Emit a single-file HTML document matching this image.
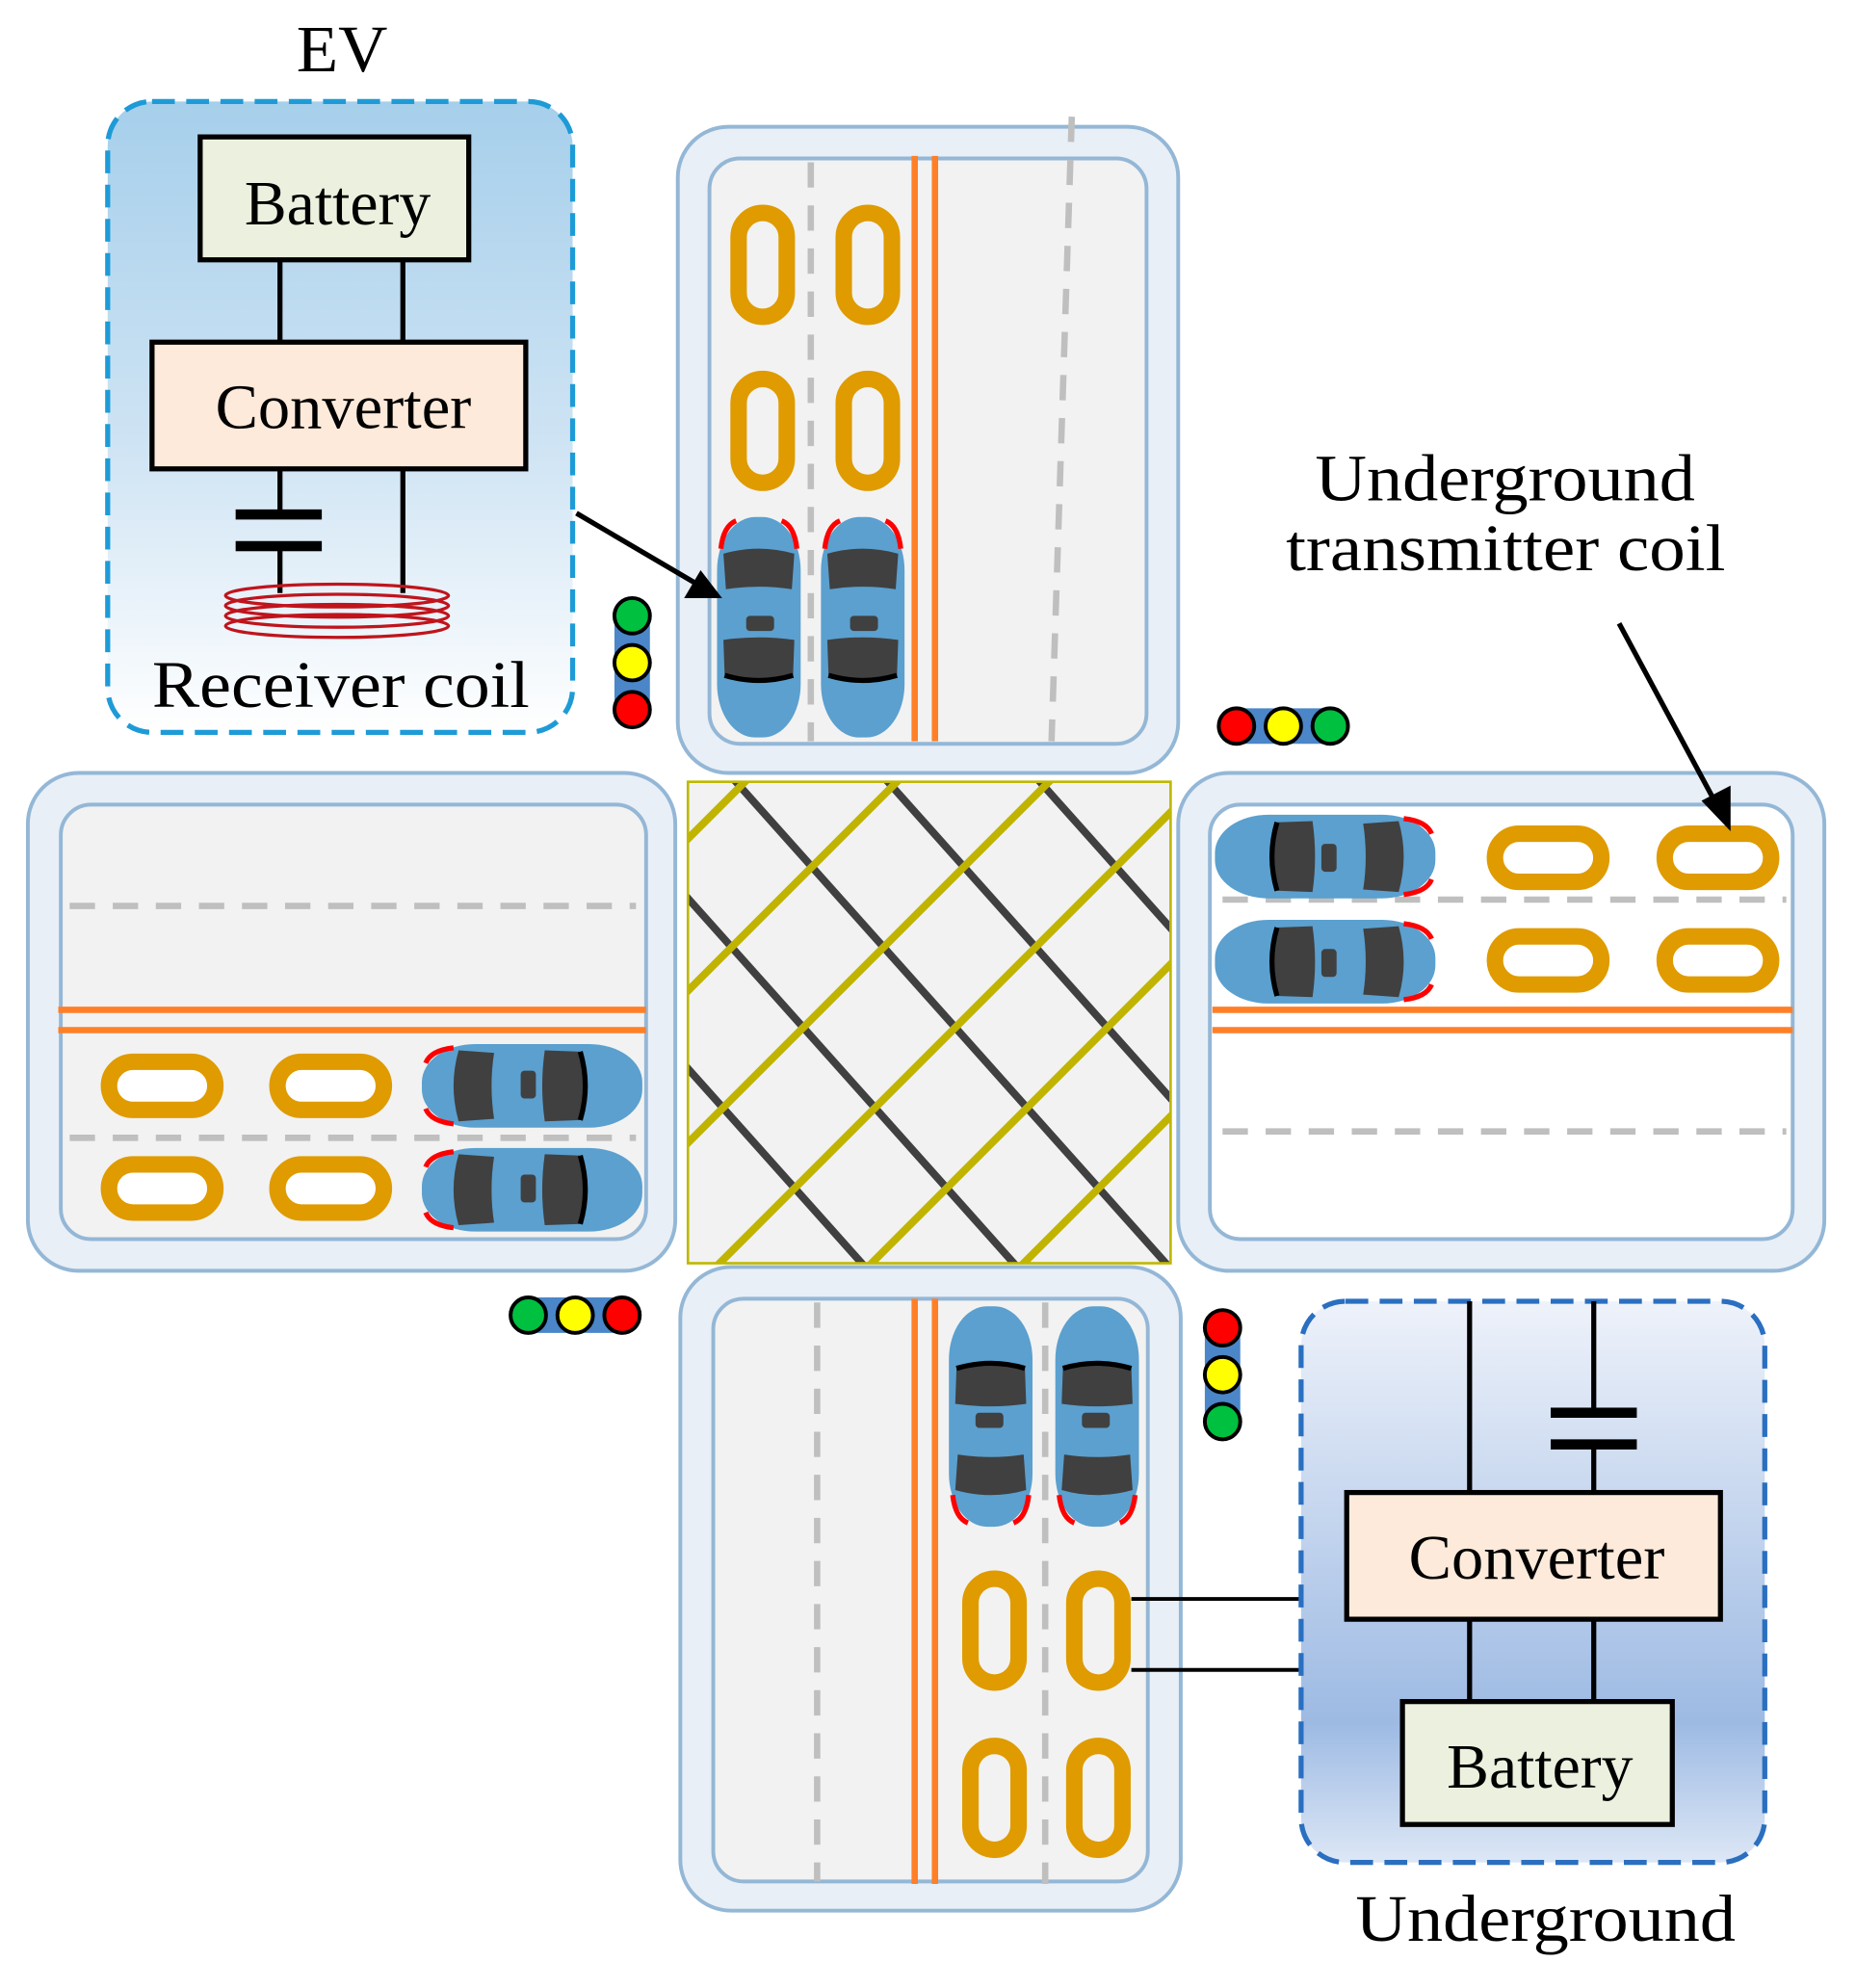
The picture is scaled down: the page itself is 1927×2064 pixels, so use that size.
<!DOCTYPE html>
<html><head><meta charset="utf-8"><style>html,body{margin:0;padding:0;background:#fff}svg{display:block}</style></head>
<body>
<svg width="1927" height="2064" viewBox="0 0 1465 1569" xmlns="http://www.w3.org/2000/svg" font-family="'Liberation Serif', serif">
<defs>
<linearGradient id="evg" x1="0" y1="0" x2="0" y2="1"><stop offset="0" stop-color="#a6cfeb"/><stop offset="0.55" stop-color="#cfe4f4"/><stop offset="1" stop-color="#ffffff"/></linearGradient>
<linearGradient id="ugg" x1="0" y1="0" x2="0" y2="1"><stop offset="0" stop-color="#eef2fa"/><stop offset="0.75" stop-color="#9dbae3"/><stop offset="1" stop-color="#dde7f6"/></linearGradient>
<clipPath id="cx"><rect x="543" y="617" width="381" height="380"/></clipPath>
<g id="car">
<rect x="-33" y="-87" width="66" height="174" rx="30" ry="42" fill="#5ba0cf"/>
<path d="M-30,-62 Q-28,-80 -18,-84 M30,-62 Q28,-80 18,-84" stroke="#ff0000" stroke-width="4" fill="none"/>
<path d="M-28,-58 Q0,-66 28,-58 L26,-30 Q0,-34 -26,-30 Z" fill="#404040"/>
<rect x="-10" y="-9" width="22" height="12" rx="3" fill="#404040"/>
<path d="M-28,10 Q0,6 28,10 L27,38 Q0,46 -27,38 Z" fill="#404040"/>
<path d="M-27,38 Q0,46 27,38" stroke="#000" stroke-width="4" fill="none"/>
</g>
</defs>
<rect width="1465" height="1569" fill="#fff"/>

<!-- EV box -->
<text x="234" y="56" font-size="52" textLength="72" lengthAdjust="spacingAndGlyphs">EV</text>
<rect x="85" y="80" width="367" height="498" rx="35" fill="url(#evg)" stroke="#1e9bd7" stroke-width="4" stroke-dasharray="18,9"/>
<line x1="221" y1="205" x2="221" y2="270" stroke="#000" stroke-width="4"/>
<line x1="318" y1="205" x2="318" y2="270" stroke="#000" stroke-width="4"/>
<rect x="158" y="108" width="212" height="97" fill="#ebf1de" stroke="#000" stroke-width="4"/>
<text x="193" y="177" font-size="50" textLength="147" lengthAdjust="spacingAndGlyphs">Battery</text>
<rect x="120" y="270" width="295" height="100" fill="#fdeada" stroke="#000" stroke-width="4"/>
<text x="170" y="338" font-size="50" textLength="202" lengthAdjust="spacingAndGlyphs">Converter</text>
<line x1="221" y1="370" x2="221" y2="404" stroke="#000" stroke-width="4"/>
<rect x="186" y="402" width="68" height="8" fill="#000"/>
<rect x="186" y="427" width="68" height="8" fill="#000"/>
<line x1="221" y1="433" x2="221" y2="468" stroke="#000" stroke-width="4"/>
<line x1="318" y1="370" x2="318" y2="468" stroke="#000" stroke-width="4"/>
<g fill="none" stroke="#c0141c" stroke-width="2.5">
<ellipse cx="266" cy="470" rx="88" ry="9"/><ellipse cx="266" cy="478" rx="88" ry="9"/><ellipse cx="266" cy="486" rx="88" ry="9"/><ellipse cx="266" cy="494" rx="88" ry="9"/></g>
<text x="120" y="558" font-size="52" textLength="298" lengthAdjust="spacingAndGlyphs">Receiver coil</text>

<!-- top road -->
<rect x="535" y="100" width="395" height="510" rx="40" fill="#e8eff7" stroke="#94b7d6" stroke-width="3"/>
<rect x="560" y="125" width="345" height="462" rx="24" fill="#f2f2f2" stroke="#94b7d6" stroke-width="3"/>
<line x1="640" y1="128" x2="640" y2="585" stroke="#bfbfbf" stroke-width="5" stroke-dasharray="20,14"/>
<line x1="846" y1="92" x2="830" y2="585" stroke="#bfbfbf" stroke-width="5" stroke-dasharray="20,14"/>
<line x1="722" y1="123" x2="722" y2="585" stroke="#ff7f27" stroke-width="5"/>
<line x1="738" y1="123" x2="738" y2="585" stroke="#ff7f27" stroke-width="5"/>
<g fill="none" stroke="#df9b00" stroke-width="13">
<rect x="583" y="168" width="38" height="82" rx="19"/><rect x="666" y="168" width="38" height="82" rx="19"/>
<rect x="583" y="299" width="38" height="82" rx="19"/><rect x="666" y="299" width="38" height="82" rx="19"/></g>
<use href="#car" transform="translate(599,495)"/>
<use href="#car" transform="translate(681,495)"/>
<line x1="455" y1="405" x2="552" y2="462" stroke="#000" stroke-width="4"/>
<polygon points="570,472 540,472 553,450" fill="#000"/>

<!-- left road -->
<rect x="22" y="610" width="511" height="393" rx="40" fill="#e8eff7" stroke="#94b7d6" stroke-width="3"/>
<rect x="48" y="635" width="462" height="343" rx="24" fill="#f2f2f2" stroke="#94b7d6" stroke-width="3"/>
<line x1="55" y1="715" x2="502" y2="715" stroke="#bfbfbf" stroke-width="5" stroke-dasharray="20,14"/>
<line x1="55" y1="898" x2="502" y2="898" stroke="#bfbfbf" stroke-width="5" stroke-dasharray="20,14"/>
<line x1="46" y1="797" x2="510" y2="797" stroke="#ff7f27" stroke-width="5"/>
<line x1="46" y1="813" x2="510" y2="813" stroke="#ff7f27" stroke-width="5"/>
<g fill="#fff" stroke="#df9b00" stroke-width="13">
<rect x="86" y="838" width="84" height="38" rx="19"/><rect x="219" y="838" width="84" height="38" rx="19"/>
<rect x="86" y="919" width="84" height="38" rx="19"/><rect x="219" y="919" width="84" height="38" rx="19"/></g>
<use href="#car" transform="translate(420,857) rotate(-90)"/>
<use href="#car" transform="translate(420,939) rotate(-90)"/>

<!-- right road -->
<rect x="930" y="610" width="510" height="393" rx="40" fill="#e8eff7" stroke="#94b7d6" stroke-width="3"/>
<rect x="955" y="635" width="460" height="343" rx="24" fill="#fff" stroke="#94b7d6" stroke-width="3"/>
<line x1="965" y1="710" x2="1410" y2="710" stroke="#bfbfbf" stroke-width="5" stroke-dasharray="20,14"/>
<line x1="965" y1="893" x2="1410" y2="893" stroke="#bfbfbf" stroke-width="5" stroke-dasharray="20,14"/>
<line x1="957" y1="797" x2="1415" y2="797" stroke="#ff7f27" stroke-width="5"/>
<line x1="957" y1="813" x2="1415" y2="813" stroke="#ff7f27" stroke-width="5"/>
<g fill="#fff" stroke="#df9b00" stroke-width="13">
<rect x="1180" y="658" width="84" height="38" rx="19"/><rect x="1314" y="658" width="84" height="38" rx="19"/>
<rect x="1180" y="739" width="84" height="38" rx="19"/><rect x="1314" y="739" width="84" height="38" rx="19"/></g>
<use href="#car" transform="translate(1046,676) rotate(90)"/>
<use href="#car" transform="translate(1046,759) rotate(90)"/>
<text x="1038" y="395" font-size="52" textLength="300" lengthAdjust="spacingAndGlyphs">Underground</text>
<text x="1015" y="450" font-size="52" textLength="347" lengthAdjust="spacingAndGlyphs">transmitter coil</text>
<line x1="1278" y1="492" x2="1356" y2="637" stroke="#000" stroke-width="4"/>
<polygon points="1366,656 1343,632 1366,620" fill="#000"/>

<!-- bottom road -->
<rect x="537" y="1000" width="395" height="508" rx="40" fill="#e8eff7" stroke="#94b7d6" stroke-width="3"/>
<rect x="563" y="1025" width="343" height="460" rx="24" fill="#f2f2f2" stroke="#94b7d6" stroke-width="3"/>
<line x1="645" y1="1028" x2="645" y2="1485" stroke="#bfbfbf" stroke-width="5" stroke-dasharray="20,14"/>
<line x1="825" y1="1028" x2="825" y2="1487" stroke="#bfbfbf" stroke-width="5" stroke-dasharray="20,14"/>
<line x1="722" y1="1025" x2="722" y2="1487" stroke="#ff7f27" stroke-width="5"/>
<line x1="738" y1="1025" x2="738" y2="1487" stroke="#ff7f27" stroke-width="5"/>
<g fill="#f2f2f2" stroke="#df9b00" stroke-width="13">
<rect x="766" y="1246" width="38" height="82" rx="19"/><rect x="848" y="1246" width="38" height="82" rx="19"/>
<rect x="766" y="1378" width="38" height="82" rx="19"/><rect x="848" y="1378" width="38" height="82" rx="19"/></g>
<use href="#car" transform="translate(782,1118) rotate(180)"/>
<use href="#car" transform="translate(866,1118) rotate(180)"/>
<line x1="893" y1="1262" x2="1030" y2="1262" stroke="#000" stroke-width="3"/>
<line x1="893" y1="1318" x2="1030" y2="1318" stroke="#000" stroke-width="3"/>

<!-- crossing -->
<rect x="543" y="617" width="381" height="380" fill="#f2f2f2"/>
<g clip-path="url(#cx)" stroke-linecap="round" stroke-width="6">
<g stroke="#404040">
<line x1="290" y1="560" x2="790" y2="1120"/><line x1="410" y1="560" x2="910" y2="1120"/><line x1="530" y1="560" x2="1030" y2="1120"/>
<line x1="650" y1="560" x2="1150" y2="1120"/><line x1="770" y1="560" x2="1270" y2="1120"/><line x1="890" y1="560" x2="1390" y2="1120"/>
</g>
<g stroke="#c0b400">
<line x1="540" y1="665" x2="1000" y2="205"/><line x1="540" y1="785" x2="1000" y2="325"/><line x1="540" y1="905" x2="1000" y2="445"/><line x1="540" y1="1025" x2="1000" y2="565"/>
<line x1="540" y1="1145" x2="1000" y2="685"/><line x1="540" y1="1265" x2="1000" y2="805"/><line x1="540" y1="1385" x2="1000" y2="925"/><line x1="540" y1="1505" x2="1000" y2="1045"/>
</g>
</g>
<rect x="543" y="617" width="381" height="380" fill="none" stroke="#bfb800" stroke-width="2"/>

<!-- underground box -->
<rect x="1027" y="1027" width="366" height="443" rx="35" fill="url(#ugg)" stroke="#2a6fc0" stroke-width="4" stroke-dasharray="18,9"/>
<line x1="1160" y1="1027" x2="1160" y2="1178" stroke="#000" stroke-width="4"/>
<line x1="1258" y1="1027" x2="1258" y2="1114" stroke="#000" stroke-width="4"/>
<rect x="1224" y="1111" width="68" height="8" fill="#000"/>
<rect x="1224" y="1136" width="68" height="8" fill="#000"/>
<line x1="1258" y1="1142" x2="1258" y2="1178" stroke="#000" stroke-width="4"/>
<line x1="1160" y1="1278" x2="1160" y2="1343" stroke="#000" stroke-width="4"/>
<line x1="1258" y1="1278" x2="1258" y2="1343" stroke="#000" stroke-width="4"/>
<rect x="1063" y="1178" width="295" height="100" fill="#fdeada" stroke="#000" stroke-width="4"/>
<text x="1112" y="1246" font-size="50" textLength="202" lengthAdjust="spacingAndGlyphs">Converter</text>
<rect x="1107" y="1343" width="213" height="97" fill="#ebf1de" stroke="#000" stroke-width="4"/>
<text x="1142" y="1411" font-size="50" textLength="147" lengthAdjust="spacingAndGlyphs">Battery</text>
<text x="1070" y="1532" font-size="52" textLength="300" lengthAdjust="spacingAndGlyphs">Underground</text>

<!-- traffic lights -->
<g stroke="#000" stroke-width="3">
<rect x="485" y="475" width="28" height="95" rx="10" fill="#4a86c8" stroke="none"/>
<circle cx="499" cy="486" r="14" fill="#00c040"/><circle cx="499" cy="523" r="14" fill="#ffff00"/><circle cx="499" cy="560" r="14" fill="#ff0000"/>
<rect x="965" y="559" width="97" height="28" rx="10" fill="#4a86c8" stroke="none"/>
<circle cx="976" cy="573" r="14" fill="#ff0000"/><circle cx="1013" cy="573" r="14" fill="#ffff00"/><circle cx="1050" cy="573" r="14" fill="#00c040"/>
<rect x="405" y="1024" width="100" height="28" rx="10" fill="#4a86c8" stroke="none"/>
<circle cx="417" cy="1038" r="14" fill="#00c040"/><circle cx="454" cy="1038" r="14" fill="#ffff00"/><circle cx="491" cy="1038" r="14" fill="#ff0000"/>
<rect x="951" y="1036" width="28" height="97" rx="10" fill="#4a86c8" stroke="none"/>
<circle cx="965" cy="1048" r="14" fill="#ff0000"/><circle cx="965" cy="1085" r="14" fill="#ffff00"/><circle cx="965" cy="1122" r="14" fill="#00c040"/>
</g>
</svg>
</body></html>
